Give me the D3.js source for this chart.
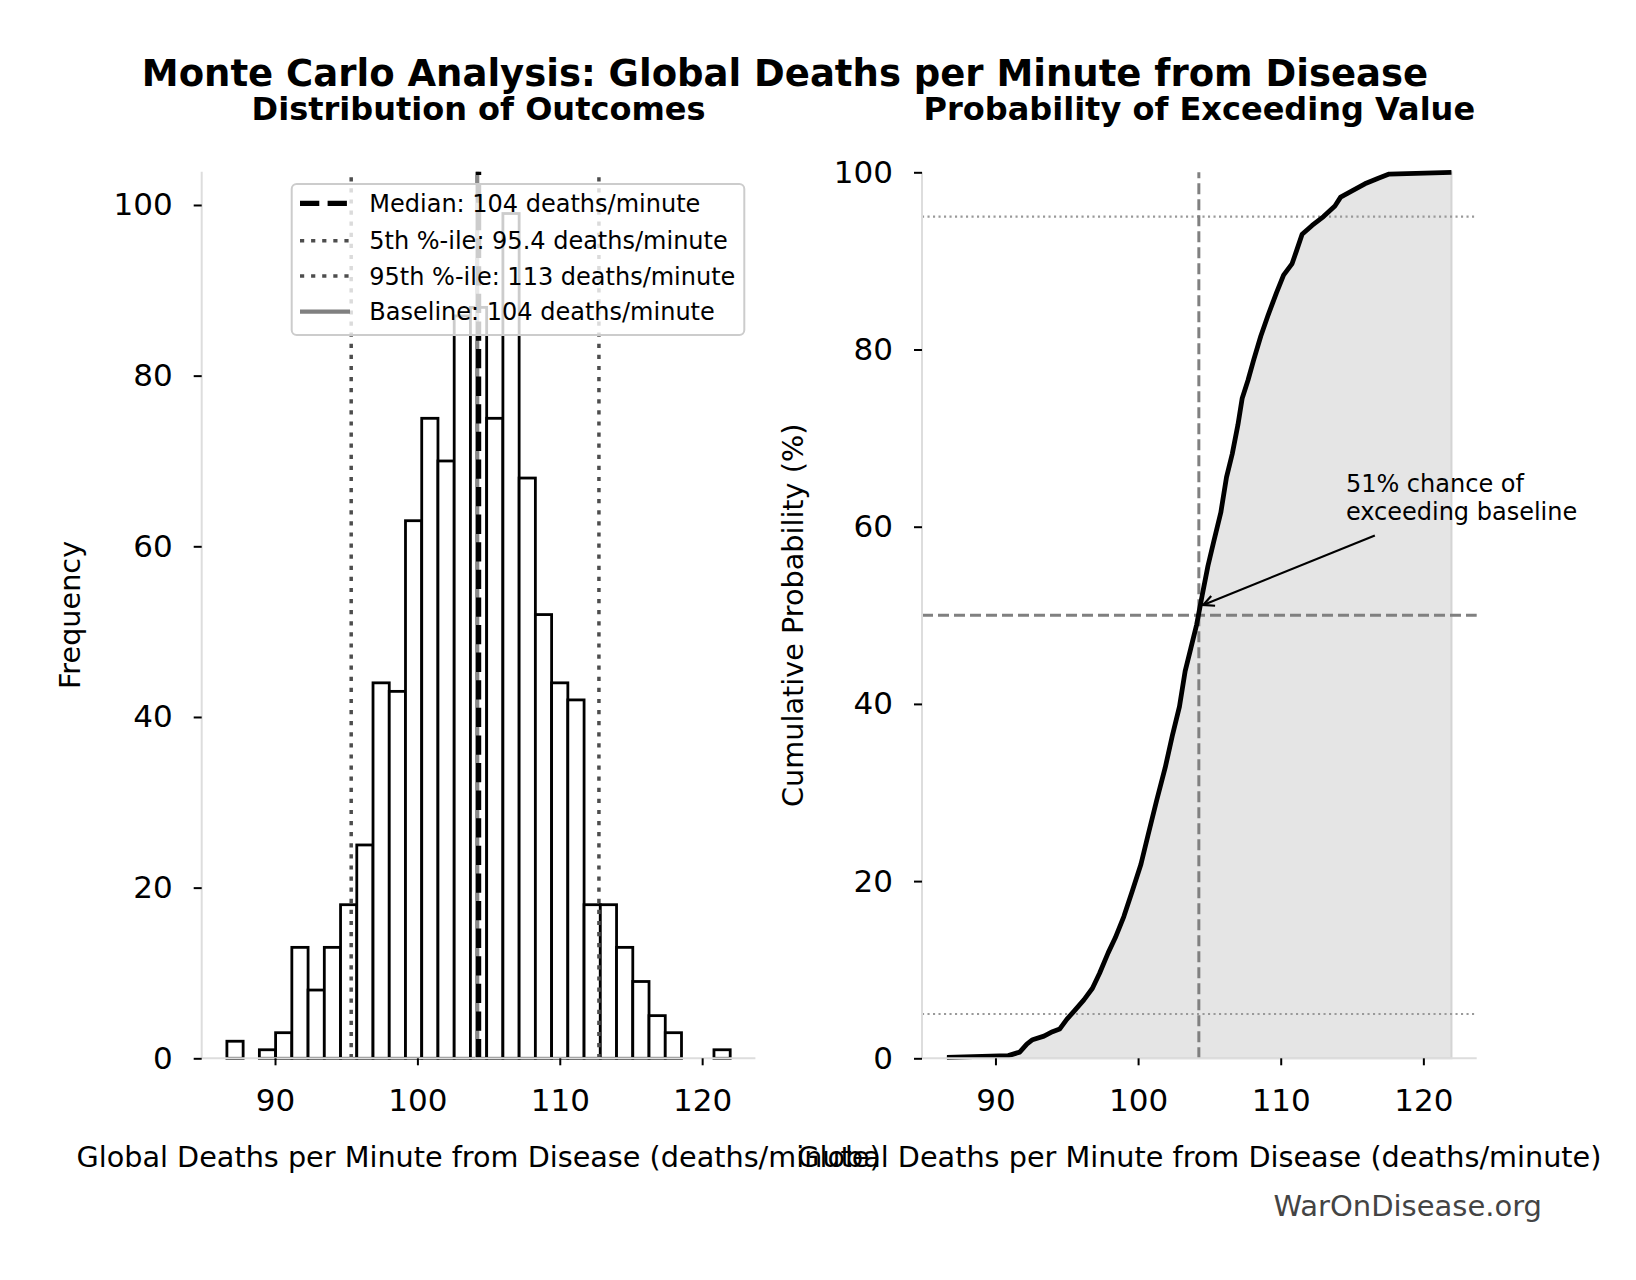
<!DOCTYPE html>
<html>
<head>
<meta charset="utf-8">
<script src="https://cdn.jsdelivr.net/npm/d3@7"></script>
<style>
  body { margin: 0; background: #fff; }
  svg { display: block; font-family: "DejaVu Sans", sans-serif; }
</style>
</head>
<body>
<svg id="chart" width="1636" height="1280"></svg>
<script>
// histogram of 1000 Monte Carlo draws (31 equal bins between min and max)
const sampleRange = [86.62, 121.97];
const histCounts = [2, 0, 1, 3, 13, 8, 13, 18, 25, 44, 43, 63, 75, 70, 87, 88,
                    75, 99, 68, 52, 44, 42, 18, 18, 13, 9, 5, 3, 0, 0, 1];

const cdfValues = [86.6, 90.9, 91.7, 92.2, 92.6, 93.4, 94.0, 94.5, 95.0, 95.5, 96.2, 96.8,
                   97.3, 97.9, 98.4, 99.0, 99.6, 100.2, 100.7, 101.3, 101.9, 102.4, 102.9,
                   103.3, 103.7, 104.1, 104.5, 104.9, 105.3, 105.8, 106.2, 106.6, 107.0,
                   107.3, 107.7, 108.1, 108.6, 109.1, 109.7, 110.2, 110.8, 111.1, 111.5,
                   112.2, 113.0, 113.8, 114.2, 115.0, 115.9, 116.8, 117.6, 121.97];
const cdfPercent = [0.1, 0.3, 0.7, 1.6, 2.1, 2.5, 3.0, 3.3, 4.4, 5.3, 6.6, 7.9,
                    9.6, 11.9, 13.6, 16.0, 18.9, 21.9, 25.2, 29.1, 32.8, 36.4, 39.7,
                    43.7, 46.3, 48.9, 52.3, 55.6, 58.3, 61.6, 65.6, 68.2, 71.5,
                    74.5, 76.5, 78.8, 81.5, 83.8, 86.4, 88.4, 89.7, 91.1, 93.0,
                    94.0, 95.0, 96.2, 97.2, 97.9, 98.7, 99.3, 99.8, 100];

const medianValue = 104.3;
const p5Value = 95.35;
const p95Value = 112.75;
const baselineValue = 104.2;
const probLines = [5, 95];

const xTicks = [90, 100, 110, 120];
const yTicks = [0, 20, 40, 60, 80, 100];
const xDomain = [84.85, 123.74];

const legendLabels = [
  "Median: 104 deaths/minute",
  "5th %-ile: 95.4 deaths/minute",
  "95th %-ile: 113 deaths/minute",
  "Baseline: 104 deaths/minute"
];
const annLines = ["51% chance of", "exceeding baseline"];
const annPoint = [104.3, 51];
const annFrom = [116.6, 59];
const annTextAt = [114.57, 63.9];

const svg = d3.select("#chart");
svg.append("rect").attr("width", 1636).attr("height", 1280).attr("fill", "#fff");

const SPINE = "#dddddd";

function styleAxis(g) {
  g.select(".domain").remove();
  g.selectAll(".tick line").attr("stroke", "#000").attr("stroke-width", 2);
  g.selectAll(".tick text").attr("fill", "#000").style("font-size", "31px")
    .style("font-family", "DejaVu Sans");
}

// ---------- left panel: histogram ----------
const xL = d3.scaleLinear().domain(xDomain).range([201.7, 755.4]);
const yL = d3.scaleLinear().domain([0, 103.9]).range([1058.3, 171.7]);

const binW = (sampleRange[1] - sampleRange[0]) / histCounts.length;
const bins = histCounts.map((c, i) => ({
  x0: sampleRange[0] + i * binW,
  x1: sampleRange[0] + (i + 1) * binW,
  count: c
})).filter(d => d.count > 0);

const left = svg.append("g");
left.selectAll("rect.bar")
  .data(bins)
  .join("rect")
  .attr("class", "bar")
  .attr("x", d => xL(d.x0))
  .attr("width", d => xL(d.x1) - xL(d.x0))
  .attr("y", d => yL(d.count))
  .attr("height", d => yL(0) - yL(d.count))
  .attr("fill", "#fff")
  .attr("stroke", "#000")
  .attr("stroke-width", 2.8);

function vline(g, scaleX, scaleY, v, top) {
  return g.append("line")
    .attr("x1", scaleX(v)).attr("x2", scaleX(v))
    .attr("y1", scaleY(0)).attr("y2", scaleY(top));
}
vline(left, xL, yL, baselineValue, 103.9).attr("stroke", "#888").attr("stroke-width", 4.2);
[p5Value, p95Value].forEach(v => {
  vline(left, xL, yL, v, 103.9).attr("stroke", "#4d4d4d").attr("stroke-width", 3.5)
    .attr("stroke-dasharray", "4.2,6.9");
});
vline(left, xL, yL, medianValue, 103.9).attr("stroke", "#000").attr("stroke-width", 5.2)
  .attr("stroke-dasharray", "19.3,8.3");

left.append("line").attr("x1", xL.range()[0]).attr("x2", xL.range()[1])
  .attr("y1", yL(0)).attr("y2", yL(0)).attr("stroke", SPINE).attr("stroke-width", 2);
left.append("line").attr("x1", xL.range()[0]).attr("x2", xL.range()[0])
  .attr("y1", yL(0)).attr("y2", yL.range()[1]).attr("stroke", SPINE).attr("stroke-width", 2);

left.append("g").attr("transform", `translate(0,${yL(0)})`)
  .call(d3.axisBottom(xL).tickValues(xTicks).tickSize(7).tickPadding(24).tickFormat(d3.format("d")))
  .call(styleAxis);
left.append("g").attr("transform", `translate(${xL.range()[0]},0)`)
  .call(d3.axisLeft(yL).tickValues(yTicks).tickSize(8).tickPadding(21).tickFormat(d3.format("d")))
  .call(styleAxis);

// legend
const leg = left.append("g");
leg.append("rect").attr("x", 291.7).attr("y", 184).attr("width", 452.6).attr("height", 151)
  .attr("rx", 5).attr("fill", "#fff").attr("fill-opacity", 0.8)
  .attr("stroke", "#cccccc").attr("stroke-width", 2);
const legStyles = [
  {stroke: "#000", w: 5.2, dash: "19.3,8.3"},
  {stroke: "#4d4d4d", w: 3.5, dash: "4.2,6.9"},
  {stroke: "#4d4d4d", w: 3.5, dash: "4.2,6.9"},
  {stroke: "#808080", w: 4.2, dash: null}
];
const legRows = [203.3, 240.7, 276, 311.7];
legendLabels.forEach((lab, i) => {
  leg.append("line").attr("x1", 300).attr("x2", 350)
    .attr("y1", legRows[i]).attr("y2", legRows[i])
    .attr("stroke", legStyles[i].stroke).attr("stroke-width", legStyles[i].w)
    .attr("stroke-dasharray", legStyles[i].dash);
  leg.append("text").attr("x", 369.3).attr("y", legRows[i] + 8.5)
    .style("font-size", "24px").attr("fill", "#000").text(lab);
});

// ---------- right panel: cumulative probability ----------
const xR = d3.scaleLinear().domain(xDomain).range([922, 1476.7]);
const yR = d3.scaleLinear().domain([0, 100]).range([1058.3, 172.3]);
const cdf = cdfValues.map((v, i) => [v, cdfPercent[i]]);

const right = svg.append("g");
right.append("path")
  .datum(cdf)
  .attr("d", d3.area().x(d => xR(d[0])).y0(yR(0)).y1(d => yR(d[1])))
  .attr("fill", "#e5e5e5")
  .attr("stroke", "#d4d4d4")
  .attr("stroke-width", 2);

probLines.forEach(p => {
  right.append("line").attr("x1", xR.range()[0]).attr("x2", xR.range()[1])
    .attr("y1", yR(p)).attr("y2", yR(p))
    .attr("stroke", "#999").attr("stroke-width", 2.1).attr("stroke-dasharray", "2.1,3.4");
});
right.append("line").attr("x1", xR.range()[0]).attr("x2", xR.range()[1])
  .attr("y1", yR(50)).attr("y2", yR(50))
  .attr("stroke", "#808080").attr("stroke-width", 3).attr("stroke-dasharray", "11,5");
vline(right, xR, yR, 104.26, 100)
  .attr("stroke", "#808080").attr("stroke-width", 3).attr("stroke-dasharray", "11,5");

right.append("path")
  .datum(cdf)
  .attr("d", d3.line().x(d => xR(d[0])).y(d => yR(d[1])))
  .attr("fill", "none")
  .attr("stroke", "#000")
  .attr("stroke-width", 4.8)
  .attr("stroke-linejoin", "round");

right.append("line").attr("x1", xR.range()[0]).attr("x2", xR.range()[1])
  .attr("y1", yR(0)).attr("y2", yR(0)).attr("stroke", SPINE).attr("stroke-width", 2);
right.append("line").attr("x1", xR.range()[0]).attr("x2", xR.range()[0])
  .attr("y1", yR(0)).attr("y2", yR(100)).attr("stroke", SPINE).attr("stroke-width", 2);

right.append("g").attr("transform", `translate(0,${yR(0)})`)
  .call(d3.axisBottom(xR).tickValues(xTicks).tickSize(7).tickPadding(24).tickFormat(d3.format("d")))
  .call(styleAxis);
right.append("g").attr("transform", `translate(${xR.range()[0]},0)`)
  .call(d3.axisLeft(yR).tickValues(yTicks).tickSize(8).tickPadding(21).tickFormat(d3.format("d")))
  .call(styleAxis);

// annotation with arrow
const ax0 = xR(annFrom[0]), ay0 = yR(annFrom[1]);
const ax1 = xR(annPoint[0]), ay1 = yR(annPoint[1]);
const ang = Math.atan2(ay1 - ay0, ax1 - ax0);
const tipX = ax1 - 4 * Math.cos(ang), tipY = ay1 - 4 * Math.sin(ang);
right.append("line").attr("x1", ax0).attr("y1", ay0).attr("x2", tipX).attr("y2", tipY)
  .attr("stroke", "#000").attr("stroke-width", 2.2);
const hl = 12, hw = 0.45;
right.append("path")
  .attr("d", `M${tipX - hl * Math.cos(ang - hw)},${tipY - hl * Math.sin(ang - hw)}` +
             `L${tipX},${tipY}` +
             `L${tipX - hl * Math.cos(ang + hw)},${tipY - hl * Math.sin(ang + hw)}`)
  .attr("fill", "none").attr("stroke", "#000").attr("stroke-width", 2.2);
annLines.forEach((t, i) => {
  right.append("text").attr("x", xR(annTextAt[0])).attr("y", yR(annTextAt[1]) + i * 27.7)
    .style("font-size", "24px").attr("fill", "#000").text(t);
});

// ---------- titles and labels ----------
svg.append("text").attr("x", 785).attr("y", 85.5).attr("text-anchor", "middle")
  .style("font-size", "37px").style("font-weight", "bold")
  .text("Monte Carlo Analysis: Global Deaths per Minute from Disease");
svg.append("text").attr("x", d3.mean(xL.range())).attr("y", 119.5).attr("text-anchor", "middle")
  .style("font-size", "32px").style("font-weight", "bold").text("Distribution of Outcomes");
svg.append("text").attr("x", d3.mean(xR.range())).attr("y", 119.5).attr("text-anchor", "middle")
  .style("font-size", "32px").style("font-weight", "bold").text("Probability of Exceeding Value");

const xLabel = "Global Deaths per Minute from Disease (deaths/minute)";
svg.append("text").attr("x", d3.mean(xL.range())).attr("y", 1167).attr("text-anchor", "middle")
  .style("font-size", "28.7px").text(xLabel);
svg.append("text").attr("x", d3.mean(xR.range())).attr("y", 1167).attr("text-anchor", "middle")
  .style("font-size", "28.7px").text(xLabel);

svg.append("text").attr("transform", `translate(80,${d3.mean(yL.range())}) rotate(-90)`)
  .attr("text-anchor", "middle").style("font-size", "28.7px").text("Frequency");
svg.append("text").attr("transform", `translate(803,${d3.mean(yR.range())}) rotate(-90)`)
  .attr("text-anchor", "middle").style("font-size", "28.7px").text("Cumulative Probability (%)");

svg.append("text").attr("x", 1542).attr("y", 1216).attr("text-anchor", "end")
  .style("font-size", "29px").attr("fill", "#444").text("WarOnDisease.org");
</script>
</body>
</html>
